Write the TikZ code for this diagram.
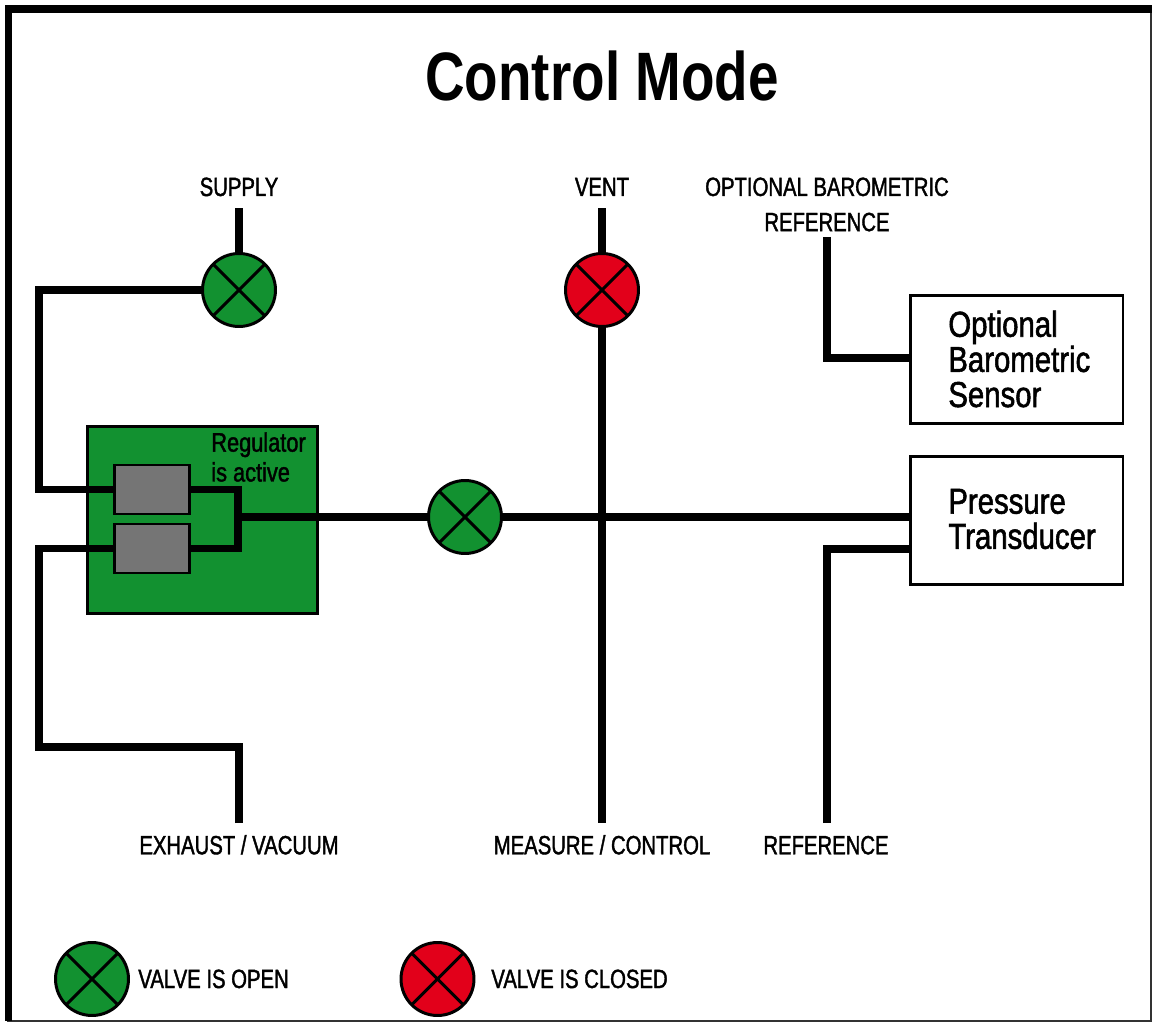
\documentclass[tikz,border=0pt]{standalone}
\usepackage{fontspec}
\setmainfont[FakeStretch=0.8]{Liberation Sans}
\newfontfamily\portfont[FakeStretch=0.77,FakeBold=1.5]{Liberation Sans}
\newfontfamily\bodyfont[FakeStretch=0.815,FakeBold=1.5]{Liberation Sans}
\usetikzlibrary{positioning, calc}

\definecolor{valvegreen}{HTML}{129130}
\definecolor{valvered}{HTML}{E2001A}
\definecolor{blockgray}{HTML}{757575}

\begin{document}
\begin{tikzpicture}[
    x=0.02cm, y=-0.02cm,
    every node/.style={align=center},
    valve/.style={draw, circle, line width=1.7pt, minimum size=1.46cm, inner sep=0pt,
        path picture={
            \draw[line width=1.7pt] (path picture bounding box.north west) -- (path picture bounding box.south east);
            \draw[line width=1.7pt] (path picture bounding box.north east) -- (path picture bounding box.south west);
        }},
    valveopen/.style={valve, fill=valvegreen},
    valveclosed/.style={valve, fill=valvered},
    portlabel/.style={font=\portfont\fontsize{15}{20}\selectfont, inner xsep=0pt, inner ysep=6.8pt, text height=10.8pt, text depth=0pt},
    sensor/.style={draw, line width=1.7pt, fill=white, minimum width=4.26cm, minimum height=2.58cm},
    sensortext/.style={font=\bodyfont\fontsize{20.5}{20}\selectfont, align=left, inner sep=0pt},
    regblock/.style={draw, line width=1.7pt, fill=blockgray, minimum width=1.5cm, minimum height=0.98cm, inner sep=0pt},
    pipe/.style={line width=4.5pt}
]
    \useasboundingbox (0,0) rectangle (1152,1023);

    % Outer frame, heavy on the top and left
    \draw[line width=0.8pt, black!80] (8,9) rectangle (1151,1021);
    \fill (5,5) rectangle (1152,13);
    \fill (5,5) rectangle (12,1021);

    % Title
    \node[font=\fontsize{39}{44}\selectfont\bfseries] (title) at (602,76) {Control Mode};

    % Regulator
    \node[draw, line width=1.7pt, fill=valvegreen, minimum width=4.62cm, minimum height=3.76cm] (regulator) at (202.5,520) {};
    \node[regblock] (blockup) at (152,489.5) {};
    \node[regblock] (blockdown) at (152,548.5) {};
    \node[font=\bodyfont\fontsize{15.2}{17}\selectfont, align=left, inner sep=0pt, anchor=west] (regtext) at (211,457) {Regulator\\is active};

    % Valves
    \node[valveopen] (vsupply) at (239,290) {};
    \node[valveclosed] (vvent) at (602,290) {};
    \node[valveopen] (vmain) at (465,517) {};

    % Sensors
    \node[sensor] (baro) at (1016.5,359.5) {};
    \node[sensortext, anchor=west] (barotext) at (948,359) {Optional\\Barometric\\Sensor};
    \node[sensor] (trans) at (1016.5,520.5) {};
    \node[sensortext, anchor=west] (transtext) at (948,519) {Pressure\\Transducer};

    % Port labels
    \node[portlabel, anchor=base] (supply) at (239,196) {SUPPLY};
    \node[portlabel, anchor=base] (vent) at (602,196) {VENT};
    \node[portlabel, anchor=north] (exhaust) at (239,823) {EXHAUST / VACUUM};
    \node[portlabel, anchor=north] (measure) at (602,823) {MEASURE / CONTROL};
    \node[portlabel, anchor=north] (reference) at (826,823) {REFERENCE};
    \node[font=\portfont\fontsize{15}{20}\selectfont, inner ysep=3pt, anchor=south] (baroref) at (827,237) {OPTIONAL BAROMETRIC\\REFERENCE};

    % Connections to the regulator
    \draw[pipe] (supply.south) -- (vsupply.north);
    \draw[pipe] (vsupply.west) -- (39,290) -- (39,489.5) -- (blockup.west);
    \draw[pipe] (exhaust.north) -- (239,747) -- (39,747) -- (39,548.5) -- (blockdown.west);
    \draw[pipe] (blockup.east) -- (238,489.5) -- (238,548.5) -- (blockdown.east);

    % Main line
    \coordinate (joint) at (238,517);
    \draw[pipe] (joint) -- (vmain.west);
    \draw[pipe] (vmain.east) -- (vmain.east -| trans.west);

    % Vent and measure line
    \draw[pipe] (vent.south) -- (vvent.north);
    \draw[pipe] (vvent.south) -- (measure.north);

    % Sensor references
    \draw[pipe] (baroref.south) -- (827,358) -- (baro.west |- 827,358);
    \draw[pipe] (827,823) -- (827,549) -- (trans.west |- 827,549);

    % Legend
    \node[valveopen] (keyopen) at (92,979) {};
    \node[portlabel, anchor=base west] (keyopentext) at (138,988) {VALVE IS OPEN};
    \node[valveclosed] (keyclosed) at (437.5,979) {};
    \node[portlabel, anchor=base west] (keyclosedtext) at (491,988) {VALVE IS CLOSED};

\end{tikzpicture}
\end{document}
